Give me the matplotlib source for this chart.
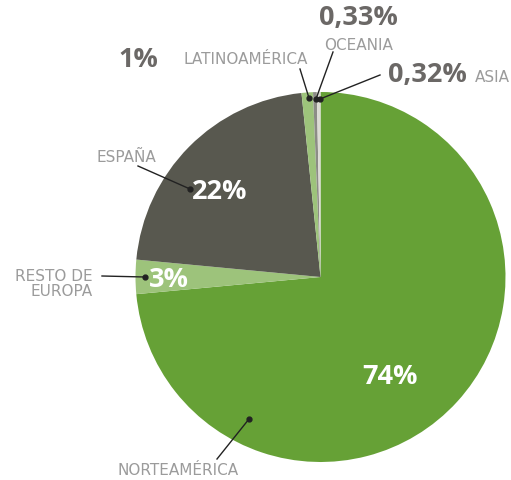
import matplotlib
matplotlib.use("Agg")
import matplotlib.pyplot as plt

# datos del gráfico
regiones = ['NORTEAMÉRICA', 'RESTO DE\nEUROPA', 'ESPAÑA', 'LATINOAMÉRICA', 'OCEANIA', 'ASIA']
valores = [74, 3, 22, 1, 0.33, 0.32]
etiquetas = ['74%', '3%', '22%', '1%', '0,33%', '0,32%']
colores = ['#66a136', '#9dc37b', '#58584f', '#9dc37b', '#8c8c86', '#dcdcd4']

W, H = 511, 481
fig = plt.figure(figsize=(W / 100, H / 100), dpi=100)
ax = fig.add_axes([0, 0, 1, 1])

cx, cy, r = 320.5, H - 278, 185
ax.pie(valores, colors=colores, startangle=90, counterclock=False,
       center=(cx, cy), radius=r, wedgeprops=dict(linewidth=0))
ax.set_xlim(0, W)
ax.set_ylim(0, H)
ax.set_aspect('equal')
ax.axis('off')

def Y(y):
    return H - y

gris_cat = '#9b9b9b'
gris_pct = '#6b6866'
f_cat = 'DejaVu Sans'
f_pct = 'Open Sans'
fs_pct = 19.5
fs_cat = 11

# porcentajes
ax.text(390, Y(377), etiquetas[0], color='white', fontsize=fs_pct, fontweight='bold', family=f_pct, ha='center', va='center')
ax.text(169, Y(280), etiquetas[1], color='white', fontsize=fs_pct, fontweight='bold', family=f_pct, ha='center', va='center')
ax.text(220, Y(192), etiquetas[2], color='white', fontsize=fs_pct, fontweight='bold', family=f_pct, ha='center', va='center')
ax.text(138, Y(60), etiquetas[3], color=gris_pct, fontsize=fs_pct, fontweight='bold', family=f_pct, ha='center', va='center')
ax.text(358, Y(18), etiquetas[4], color=gris_pct, fontsize=fs_pct, fontweight='bold', family=f_pct, ha='center', va='center')
ax.text(427, Y(75), etiquetas[5], color=gris_pct, fontsize=fs_pct, fontweight='bold', family=f_pct, ha='center', va='center')

# nombres de regiones
ax.text(178, Y(471), regiones[0], color=gris_cat, fontsize=fs_cat, family=f_cat, ha='center', va='center')
ax.text(93, Y(284), regiones[1], color=gris_cat, fontsize=fs_cat, family=f_cat, ha='right', va='center', linespacing=1.05)
ax.text(126, Y(157), regiones[2], color=gris_cat, fontsize=fs_cat, family=f_cat, ha='center', va='center')
ax.text(246, Y(60), regiones[3], color=gris_cat, fontsize=fs_cat, family=f_cat, ha='center', va='center')
ax.text(359, Y(45), regiones[4], color=gris_cat, fontsize=fs_cat, family=f_cat, ha='center', va='center')
ax.text(475, Y(78), regiones[5], color=gris_cat, fontsize=fs_cat, family=f_cat, ha='left', va='center')

# líneas de referencia con punto
lineas = [((217, 460), (249, 420)),
          ((102, 277), (145, 278)),
          ((138, 167), (190, 190)),
          ((300, 70), (309, 99)),
          ((333, 53), (316, 100)),
          ((380, 76), (320, 100))]
for (x0, y0), (x1, y1) in lineas:
    ax.plot([x0, x1], [Y(y0), Y(y1)], color='#222222', lw=1)
    ax.plot(x1, Y(y1), 'o', color='#222222', ms=3.5)

fig.savefig('out.png', dpi=100)
